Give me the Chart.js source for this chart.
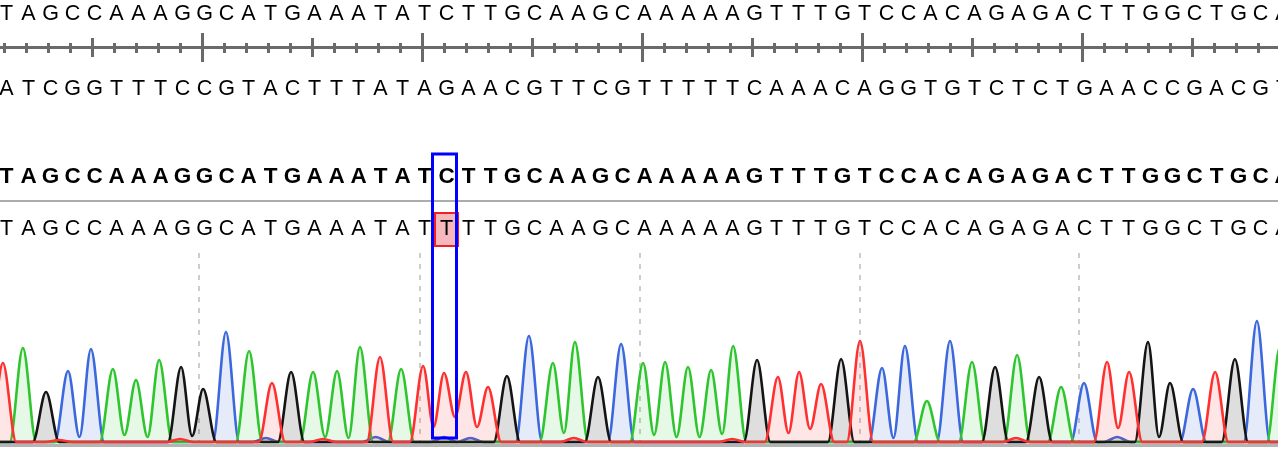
<!DOCTYPE html>
<html>
<head>
<meta charset="utf-8">
<script src="https://cdn.jsdelivr.net/npm/chart.js@4.4.1/dist/chart.umd.min.js"></script>
<style>
  html, body { margin: 0; padding: 0; background: #ffffff; }
  #wrap { position: relative; width: 1278px; height: 450px; }
</style>
</head>
<body>
<div id="wrap"><canvas id="c"></canvas></div>
<script>
// ---- Data ----
const topSeq        = "TAGCCAAAGGCATGAAATATCTTGCAAGCAAAAAGTTTGTCCACAGAGACTTGGCTGCA";
const complementSeq = "ATCGGTTTCCGTACTTTATAGAACGTTCGTTTTTCAAACAGGTGTCTCTGAACCGACGT";
const referenceSeq  = "TAGCCAAAGGCATGAAATATCTTGCAAGCAAAAAGTTTGTCCACAGAGACTTGGCTGCA";
const sampleSeq     = "TAGCCAAAGGCATGAAATATTTTGCAAGCAAAAAGTTTGTCCACAGAGACTTGGCTGCA";
const mutationIndex = 20;
const guideBases = [9, 19, 29, 39, 49];

// trace peak positions (in base units) and heights (signal units)
const peakPositions = [
  -0.05, 0.86, 1.91, 2.91, 3.95, 4.95, 6.0, 7.05, 8.05, 9.05,
  10.09, 11.14, 12.18, 13.05, 14.05, 15.14, 16.18, 17.09, 18.05, 19.05,
  20.0, 21.0, 22.0, 22.86, 23.86, 24.95, 25.95, 27.0, 28.05, 29.05,
  30.05, 31.09, 32.14, 33.14, 34.23, 35.18, 36.14, 37.14, 38.05, 38.91,
  39.91, 40.95, 41.95, 43.0, 44.0, 45.05, 46.05, 47.05, 48.05, 49.09,
  50.14, 51.14, 52.0, 53.0, 54.05, 55.05, 55.95, 56.95, 58.0
];
const peakHeights = [
  79, 94, 50, 71, 93, 73, 62, 82, 75, 53,
  110, 91, 59, 70, 70, 71, 95, 85, 73, 76,
  69, 70, 55, 66, 106, 79, 100, 65, 98, 79,
  80, 75, 72, 96, 82, 65, 70, 58, 83, 101,
  74, 96, 41, 101, 80, 75, 87, 65, 55, 59,
  80, 70, 100, 59, 53, 70, 83, 121, 95
];
// valley height between peak i and peak i+1 of the same dye: [i, height]
const valleys = [
  [3, 5], [5, 7], [6, 5], [8, 6], [14, 5], [15, 4], [19, 15], [20, 25], [21, 15],
  [25, 9], [29, 7], [30, 5], [31, 5], [32, 8], [35, 9], [36, 13], [40, 4], [50, 14], [52, 5]
];
// small secondary bumps near the baseline
const minorBases     = ["C", "C", "C", "C", "C", "T", "T", "T", "T", "T", "T"];
const minorPositions = [11.9, 16.9, 20.0, 21.2, 50.6, 2.5, 8.0, 14.5, 25.9, 33.1, 46.0];
const minorHeights   = [4, 5, 5, 4, 5, 2, 3, 3, 4, 3, 4];

// ---- Build datasets ----
const HALF = 0.6;
const valleyMap = new Map(valleys);
function channelPoints(base) {
  const peaks = [];
  for (let i = 0; i < sampleSeq.length; i++) {
    if (sampleSeq[i] === base) peaks.push({ p: peakPositions[i], h: peakHeights[i], idx: i });
  }
  for (let k = 0; k < minorBases.length; k++) {
    if (minorBases[k] === base) peaks.push({ p: minorPositions[k], h: minorHeights[k], idx: -1 });
  }
  peaks.sort((a, b) => a.p - b.p);
  const pts = [{ x: -2, y: 0 }];
  for (let k = 0; k < peaks.length; k++) {
    const pk = peaks[k], prev = peaks[k - 1], next = peaks[k + 1];
    if (!prev || pk.p - prev.p > 2 * HALF + 0.1) pts.push({ x: pk.p - HALF, y: 0 });
    pts.push({ x: pk.p, y: pk.h });
    if (next && next.p - pk.p <= 2 * HALF + 0.1) {
      pts.push({ x: (pk.p + next.p) / 2, y: valleyMap.get(pk.idx) || 0 });
    } else {
      pts.push({ x: pk.p + HALF, y: 0 });
    }
  }
  pts.push({ x: 60, y: 0 });
  return pts;
}

const dyes = [
  { base: "C", line: "#3b68dc", fill: "rgba(59,104,220,0.13)", order: 3 },
  { base: "A", line: "#2ec52e", fill: "rgba(46,197,46,0.12)", order: 2 },
  { base: "G", line: "#141414", fill: "rgba(0,0,0,0.13)", order: 1 },
  { base: "T", line: "#ff3030", fill: "rgba(255,48,48,0.12)", order: 0 }
];

const PX_PER_BASE = 22;
const xMin = -4 / PX_PER_BASE;
const xMax = xMin + 1278 / PX_PER_BASE;

const overlay = {
  id: "seqOverlay",
  beforeDatasetsDraw(chart) {
    const ctx = chart.ctx;
    const xs = chart.scales.x;
    const W = chart.width;
    const px = i => xs.getPixelForValue(i);
    ctx.save();

    // highlight behind mutated sample base
    const mx = px(mutationIndex);
    ctx.fillStyle = "#f6b8bc";
    ctx.fillRect(mx - 9, 213, 23, 33);
    ctx.strokeStyle = "#ee2020";
    ctx.lineWidth = 2;
    ctx.strokeRect(mx - 9, 213, 23, 33);

    // letters
    ctx.textAlign = "center";
    ctx.textBaseline = "alphabetic";
    ctx.fillStyle = "#000";
    ctx.font = "21.5px 'Liberation Sans', Arial, sans-serif";
    for (let i = 0; i < topSeq.length; i++) ctx.fillText(topSeq[i], px(i) + 2.5, 20);
    for (let i = 0; i < complementSeq.length; i++) ctx.fillText(complementSeq[i], px(i) + 2.5, 95);
    for (let i = 0; i < sampleSeq.length; i++) ctx.fillText(sampleSeq[i], px(i) + 2.5, 235);
    ctx.font = "bold 22.5px 'Liberation Sans', Arial, sans-serif";
    for (let i = 0; i < referenceSeq.length; i++) ctx.fillText(referenceSeq[i], px(i) + 2.5, 183);

    // ruler
    ctx.strokeStyle = "#6a6a6a";
    ctx.lineWidth = 3;
    ctx.beginPath(); ctx.moveTo(0, 47.5); ctx.lineTo(W, 47.5); ctx.stroke();
    for (let i = 0; i < topSeq.length; i++) {
      const x = Math.round(px(i)) + 0.5;
      let t = 43, b = 53;
      if (i % 10 === 4) { t = 38; b = 57; }
      if (i % 10 === 9) { t = 33; b = 62; }
      ctx.beginPath(); ctx.moveTo(x, t); ctx.lineTo(x, b); ctx.stroke();
    }

    // separator under reference
    ctx.strokeStyle = "#acacac";
    ctx.lineWidth = 2;
    ctx.beginPath(); ctx.moveTo(0, 201); ctx.lineTo(W, 201); ctx.stroke();

    // dashed guides
    ctx.strokeStyle = "#cdcdcd";
    ctx.lineWidth = 2;
    ctx.setLineDash([5, 6]);
    guideBases.forEach(g => {
      const x = Math.round(px(g) - 2.5);
      ctx.beginPath(); ctx.moveTo(x, 253); ctx.lineTo(x, 441); ctx.stroke();
    });
    ctx.setLineDash([]);

    // bottom axis band
    ctx.fillStyle = "#b4b4b4";
    ctx.fillRect(0, 444, W, 3);
    ctx.restore();
  },
  afterDatasetsDraw(chart) {
    const ctx = chart.ctx;
    const mx = chart.scales.x.getPixelForValue(mutationIndex);
    ctx.save();
    ctx.strokeStyle = "#0000ff";
    ctx.lineWidth = 3;
    ctx.strokeRect(mx - 11.5, 154, 24, 284);
    ctx.restore();
  }
};

new Chart(document.getElementById("c"), {
  type: "line",
  data: {
    datasets: dyes.map(d => ({
      label: d.base,
      data: channelPoints(d.base),
      borderColor: d.line,
      backgroundColor: d.fill,
      borderWidth: 2.6,
      fill: "origin",
      pointRadius: 0,
      cubicInterpolationMode: "monotone",
      order: d.order
    }))
  },
  options: {
    responsive: true,
    maintainAspectRatio: false,
    animation: false,
    layout: { padding: 0 },
    events: [],
    plugins: { legend: { display: false }, tooltip: { enabled: false } },
    scales: {
      x: { type: "linear", min: xMin, max: xMax, display: false },
      y: { min: -8, max: 442, display: false }
    }
  },
  plugins: [overlay]
});
</script>
</body>
</html>
